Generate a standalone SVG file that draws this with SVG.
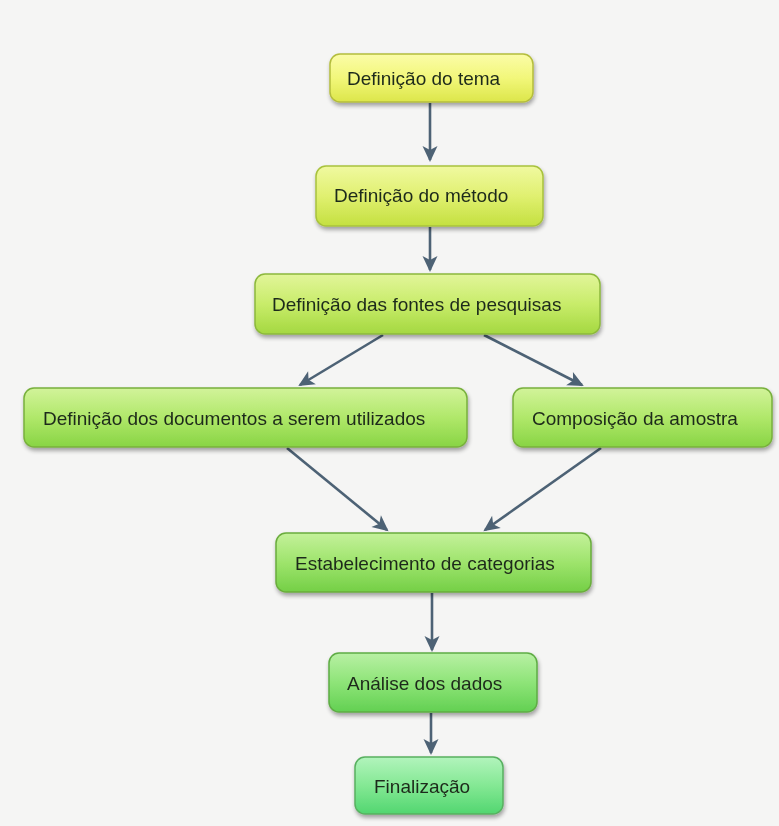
<svg xmlns="http://www.w3.org/2000/svg" width="779" height="826" viewBox="0 0 779 826">
<defs>
<style>
.box{stroke-width:1.5}
.t{font-family:"Liberation Sans",Arial,sans-serif;font-size:19px;fill:#1e2a1a}
.c{stroke:#4d6275;stroke-width:2.6;fill:none;marker-end:url(#ah)}
</style>
<marker id="ah" markerUnits="userSpaceOnUse" markerWidth="20" markerHeight="20" refX="0" refY="0" orient="auto" style="overflow:visible">
<path d="M2,0 L-14,-7.5 L-10,0 L-14,7.5 Z" fill="#4d6275"/>
</marker>
<filter id="sh" x="-10%" y="-20%" width="120%" height="150%">
<feGaussianBlur in="SourceAlpha" stdDeviation="2"/>
<feOffset dx="1" dy="3"/>
<feComponentTransfer><feFuncA type="linear" slope="0.35"/></feComponentTransfer>
<feMerge><feMergeNode/><feMergeNode in="SourceGraphic"/></feMerge>
</filter>
<linearGradient id="g1" x1="0" y1="0" x2="0" y2="1"><stop offset="0" stop-color="#fbfca8"/><stop offset="0.5" stop-color="#f2f77a"/><stop offset="1" stop-color="#dce64a"/></linearGradient>
<linearGradient id="g2" x1="0" y1="0" x2="0" y2="1"><stop offset="0" stop-color="#f0f9a0"/><stop offset="0.5" stop-color="#e0f070"/><stop offset="1" stop-color="#c4e040"/></linearGradient>
<linearGradient id="g3" x1="0" y1="0" x2="0" y2="1"><stop offset="0" stop-color="#e2f59a"/><stop offset="0.5" stop-color="#c8ec6a"/><stop offset="1" stop-color="#a4d840"/></linearGradient>
<linearGradient id="g4" x1="0" y1="0" x2="0" y2="1"><stop offset="0" stop-color="#d2f39a"/><stop offset="0.5" stop-color="#b0e86a"/><stop offset="1" stop-color="#88d444"/></linearGradient>
<linearGradient id="g6" x1="0" y1="0" x2="0" y2="1"><stop offset="0" stop-color="#c4f19a"/><stop offset="0.5" stop-color="#9ee46c"/><stop offset="1" stop-color="#74cf46"/></linearGradient>
<linearGradient id="g7" x1="0" y1="0" x2="0" y2="1"><stop offset="0" stop-color="#b8f0a4"/><stop offset="0.5" stop-color="#8ee478"/><stop offset="1" stop-color="#62d052"/></linearGradient>
<linearGradient id="g8" x1="0" y1="0" x2="0" y2="1"><stop offset="0" stop-color="#b2f4bc"/><stop offset="0.5" stop-color="#84e894"/><stop offset="1" stop-color="#52d670"/></linearGradient>
</defs>
<rect width="779" height="826" fill="#f5f5f4"/>
<g id="connectors">
<line class="c" x1="430" y1="103" x2="430" y2="160"/>
<line class="c" x1="430" y1="227" x2="430" y2="270"/>
<line class="c" x1="383" y1="335" x2="300" y2="385"/>
<line class="c" x1="484" y1="335" x2="582" y2="385"/>
<line class="c" x1="287" y1="448" x2="387" y2="530"/>
<line class="c" x1="601" y1="448" x2="485" y2="530"/>
<line class="c" x1="432" y1="593" x2="432" y2="650"/>
<line class="c" x1="431" y1="713" x2="431" y2="753"/>
</g>
<g id="n1" filter="url(#sh)"><rect class="box" x="330" y="54" width="203" height="48" rx="10" fill="url(#g1)" stroke="#b4bd3c"/><text class="t" x="347" y="85">Definição do tema</text></g>
<g id="n2" filter="url(#sh)"><rect class="box" x="316" y="166" width="227" height="60" rx="10" fill="url(#g2)" stroke="#a8c23c"/><text class="t" x="334" y="202">Definição do método</text></g>
<g id="n3" filter="url(#sh)"><rect class="box" x="255" y="274" width="345" height="60" rx="10" fill="url(#g3)" stroke="#8cb83c"/><text class="t" x="272" y="311">Definição das fontes de pesquisas</text></g>
<g id="n4" filter="url(#sh)"><rect class="box" x="24" y="388" width="443" height="59" rx="10" fill="url(#g4)" stroke="#78b03c"/><text class="t" x="43" y="425">Definição dos documentos a serem utilizados</text></g>
<g id="n5" filter="url(#sh)"><rect class="box" x="513" y="388" width="259" height="59" rx="10" fill="url(#g4)" stroke="#78b03c"/><text class="t" x="532" y="425">Composição da amostra</text></g>
<g id="n6" filter="url(#sh)"><rect class="box" x="276" y="533" width="315" height="59" rx="10" fill="url(#g6)" stroke="#6aac3c"/><text class="t" x="295" y="570">Estabelecimento de categorias</text></g>
<g id="n7" filter="url(#sh)"><rect class="box" x="329" y="653" width="208" height="59" rx="10" fill="url(#g7)" stroke="#5eac44"/><text class="t" x="347" y="690">Análise dos dados</text></g>
<g id="n8" filter="url(#sh)"><rect class="box" x="355" y="757" width="148" height="57" rx="10" fill="url(#g8)" stroke="#58b060"/><text class="t" x="374" y="793">Finalização</text></g>
</svg>
